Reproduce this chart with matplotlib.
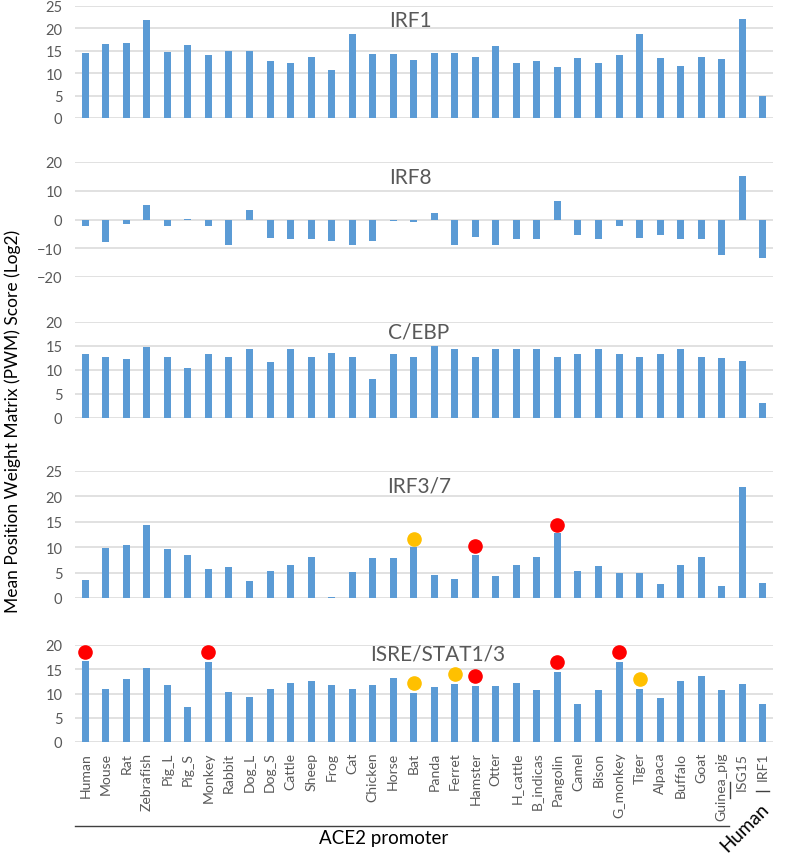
import matplotlib
matplotlib.use("Agg")
import matplotlib.pyplot as plt
from matplotlib.lines import Line2D

plt.rcParams['font.family'] = ['Lato', 'DejaVu Sans']

categories = ["Human", "Mouse", "Rat", "Zebrafish", "Pig_L", "Pig_S", "Monkey", "Rabbit",
              "Dog_L", "Dog_S", "Cattle", "Sheep", "Frog", "Cat", "Chicken", "Horse",
              "Bat", "Panda", "Ferret", "Hamster", "Otter", "H_cattle", "B_indicas",
              "Pangolin", "Camel", "Bison", "G_monkey", "Tiger", "Alpaca", "Buffalo",
              "Goat", "Guinea_pig", "ISG15", "IRF1"]

irf1 = [14.4, 16.5, 16.8, 21.8, 14.7, 16.4, 14.0, 14.9, 14.9, 12.7, 12.3, 13.7, 10.8, 18.8,
        14.3, 14.3, 12.9, 14.5, 14.5, 13.6, 16.0, 12.3, 12.8, 11.3, 13.4, 12.3, 14.0, 18.8,
        13.4, 11.7, 13.7, 13.1, 22.2, 4.8]
irf8 = [-2.3, -7.8, -1.7, 5.2, -2.4, 0.1, -2.2, -8.9, 3.2, -6.4, -6.8, -6.8, -7.4, -8.9,
        -7.4, -0.6, -0.9, 2.2, -8.9, -6.0, -8.9, -6.8, -6.8, 6.4, -5.4, -6.8, -2.2, -6.4,
        -5.4, -6.8, -6.8, -12.5, 15.0, -13.4]
cebp = [13.4, 12.8, 12.3, 14.7, 12.8, 10.5, 13.4, 12.8, 14.3, 11.6, 14.3, 12.8, 13.6, 12.8,
        8.2, 13.4, 12.8, 14.9, 14.3, 12.8, 14.3, 14.3, 14.3, 12.8, 13.4, 14.3, 13.4, 12.8,
        13.4, 14.3, 12.8, 12.6, 11.8, 3.2]
irf37 = [3.5, 9.9, 10.5, 14.4, 9.7, 8.5, 5.8, 6.2, 3.4, 5.3, 6.4, 8.1, 0.1, 5.1, 7.9, 7.9,
         10.1, 4.6, 3.7, 8.5, 4.3, 6.4, 8.1, 12.7, 5.4, 6.3, 5.0, 5.0, 2.8, 6.4, 8.1, 2.4,
         21.9, 2.9]
isre = [16.7, 11.0, 13.0, 15.3, 11.8, 7.2, 16.5, 10.4, 9.3, 10.9, 12.2, 12.5, 11.8, 11.0,
        11.8, 13.1, 10.1, 11.4, 12.0, 11.5, 11.6, 12.2, 10.8, 14.4, 7.8, 10.8, 16.5, 11.0,
        9.0, 12.6, 13.7, 10.7, 12.0, 7.8]

# highlighted markers (category, value)
irf37_red = [("Hamster", 10.3), ("Pangolin", 14.4)]
irf37_yellow = [("Bat", 11.7)]
isre_red = [("Human", 18.6), ("Monkey", 18.6), ("Hamster", 13.7), ("Pangolin", 16.5),
            ("G_monkey", 18.5)]
isre_yellow = [("Bat", 12.1), ("Ferret", 14.0), ("Tiger", 12.9)]

W, H = 787, 854
fig = plt.figure(figsize=(W / 100, H / 100), dpi=100)

BAR = "#5B9BD5"
GRID = "#D9D9D9"
TXT = "#595959"
left_px, right_px = 75, 773

panels = [
    ("IRF1", irf1, (0, 25), 5, 7, 119, 410, 21, [], []),
    ("IRF8", irf8, (-20, 20), 10, 163, 278, 410, 178, [], []),
    ("C/EBP", cebp, (0, 20), 5, 323, 419, 419, 333, [], []),
    ("IRF3/7", irf37, (0, 25), 5, 472, 599, 419, 487, irf37_red, irf37_yellow),
    ("ISRE/STAT1/3", isre, (0, 20), 5, 646, 743, 438, 655, isre_red, isre_yellow),
]

x = list(range(len(categories)))
idx = {c: i for i, c in enumerate(categories)}
for k, (title, vals, ylim, step, top, bot, tx, ty, reds, yellows) in enumerate(panels):
    ax = fig.add_axes([left_px / W, 1 - bot / H, (right_px - left_px) / W, (bot - top) / H])
    ax.bar(x, vals, width=0.34, color=BAR, zorder=3)
    ax.set_xlim(-0.5, len(categories) - 0.5)
    ax.set_ylim(*ylim)
    ticks = list(range(ylim[0], ylim[1] + 1, step))
    ax.set_yticks(ticks)
    ax.yaxis.grid(True, color=GRID, linewidth=1.1, zorder=0)
    ax.set_axisbelow(True)
    for s in ax.spines.values():
        s.set_visible(False)
    ax.tick_params(axis='y', length=0, pad=9, labelsize=10.5, labelcolor=TXT)
    ax.tick_params(axis='x', length=0)
    if reds:
        ax.plot([idx[c] for c, v in reds], [v for c, v in reds], 'o', color="#FF0000",
                markersize=9.5, zorder=4, clip_on=False)
    if yellows:
        ax.plot([idx[c] for c, v in yellows], [v for c, v in yellows], 'o', color="#FFC000",
                markersize=9.5, zorder=4, clip_on=False)
    ax.text((tx - left_px) / (right_px - left_px), (bot - ty) / (bot - top), title,
            transform=ax.transAxes, ha='center', va='center', fontsize=15, color=TXT)
    if k < len(panels) - 1:
        ax.set_xticks([])
    else:
        ax.set_xticks(x)
        ax.set_xticklabels(categories, rotation=90, fontsize=10.1, color=TXT)
        ax.tick_params(axis='x', pad=7)

# group annotations
fig.add_artist(Line2D([75 / W, 729 / W], [1 - 827 / H, 1 - 827 / H], color="#404040", lw=1.0))
fig.add_artist(Line2D([730 / W, 730 / W], [1 - 783 / H, 1 - 799 / H], color="#404040", lw=1.0))
fig.add_artist(Line2D([756 / W, 769 / W], [1 - 792 / H, 1 - 792 / H], color="#404040", lw=1.0))
fig.text(384 / W, 1 - 839 / H, "ACE2 promoter", ha='center', va='center', fontsize=13.5,
         color='black')
fig.text(745 / W, 1 - 828 / H, "Human", ha='center', va='center', fontsize=13.5,
         color='black', rotation=45)

fig.text(13 / W, 1 - 421 / H, "Mean Position Weight Matrix (PWM) Score (Log2)",
         ha='center', va='center', rotation=90, fontsize=12.5, color='black')

fig.savefig("out.png", dpi=100)
